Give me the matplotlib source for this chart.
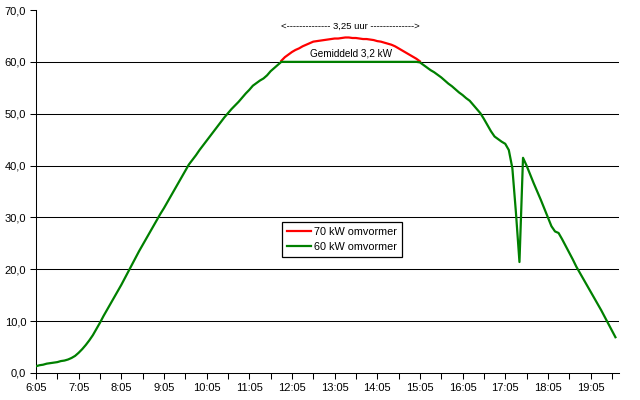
import matplotlib
matplotlib.use("Agg")
import matplotlib.pyplot as plt
import numpy as np

plt.rcParams['font.family'] = ['Liberation Sans', 'DejaVu Sans']

# 5-minute categories starting at 6:05
tick_labels = ["6:05", "7:05", "8:05", "9:05", "10:05", "11:05", "12:05",
               "13:05", "14:05", "15:05", "16:05", "17:05", "18:05", "19:05"]

# 60 kW inverter (kW), one value per 5 minutes from 6:05
green = [1.3, 1.5, 1.6, 1.8, 1.9, 2.0, 2.1, 2.3, 2.4, 2.6,
         2.9, 3.3, 3.9, 4.6, 5.4, 6.3, 7.3, 8.5, 9.7, 11.0,
         12.2, 13.4, 14.6, 15.8, 17.0, 18.3, 19.6, 20.9, 22.2, 23.5,
         24.7, 25.9, 27.1, 28.3, 29.5, 30.7, 31.8, 33.0, 34.2, 35.4,
         36.6, 37.8, 39.0, 40.2, 41.1, 42.0, 43.0, 43.9, 44.8, 45.7,
         46.6, 47.5, 48.4, 49.3, 50.1, 50.9, 51.6, 52.3, 53.1, 53.9,
         54.6, 55.4, 55.9, 56.4, 56.8, 57.4, 58.2, 58.8, 59.4, 60.0,
         60.0, 60.0, 60.0, 60.0, 60.0, 60.0, 60.0, 60.0, 60.0, 60.0,
         60.0, 60.0, 60.0, 60.0, 60.0, 60.0, 60.0, 60.0, 60.0, 60.0,
         60.0, 60.0, 60.0, 60.0, 60.0, 60.0, 60.0, 60.0, 60.0, 60.0,
         60.0, 60.0, 60.0, 60.0, 60.0, 60.0, 60.0, 60.0, 59.9, 59.4,
         58.9, 58.4, 58.0, 57.5, 57.0, 56.4, 55.8, 55.3, 54.7, 54.1,
         53.6, 53.0, 52.5, 51.7, 50.9, 50.1, 49.0, 47.8, 46.6, 45.6,
         45.1, 44.6, 44.2, 43.0, 39.5, 31.0, 21.4, 41.5, 40.0, 38.3,
         36.6, 35.0, 33.4, 31.7, 30.0, 28.3, 27.3, 27.0, 25.8, 24.5,
         23.2, 21.9, 20.5, 19.3, 18.1, 16.9, 15.7, 14.5, 13.3, 12.1,
         10.8, 9.5, 8.2, 6.9]

# 70 kW inverter, only where it exceeds the 60 kW cap (from 11:50)
red_start = 69
red = [60.2, 60.9, 61.4, 61.9, 62.3, 62.6, 63.0, 63.3, 63.6, 63.9,
       64.0, 64.1, 64.2, 64.3, 64.4, 64.5, 64.5, 64.6, 64.7, 64.7,
       64.6, 64.6, 64.5, 64.4, 64.4, 64.3, 64.2, 64.0, 63.9, 63.7,
       63.5, 63.3, 63.0, 62.6, 62.2, 61.8, 61.4, 61.0, 60.6, 60.1]

x_green = np.arange(len(green))
x_red = np.arange(red_start, red_start + len(red))

fig = plt.figure(figsize=(6.4, 4.0), dpi=100)
ax = fig.add_axes([36/640, 1 - 373/400, (619 - 36)/640, (373 - 10)/400])

for yv in [10, 20, 30, 40, 50, 60]:
    ax.axhline(yv, color='black', lw=0.75, zorder=1)

ax.plot(x_red, red, color='#FF0000', lw=1.6, zorder=3, label='70 kW omvormer')
ax.plot(x_green, green, color='#008000', lw=1.6, zorder=4, label='60 kW omvormer')

ax.set_xlim(0, 164)
ax.set_ylim(0, 70)

ax.set_xticks(np.arange(0, 164, 6))
ax.set_xticklabels([tick_labels[i // 2] if i % 2 == 0 else "" for i in range(len(np.arange(0, 164, 6)))])
ax.set_yticks(np.arange(0, 71, 10))
ax.set_yticklabels([f"{v:.1f}".replace('.', ',') for v in np.arange(0, 71, 10)])
ax.tick_params(axis='both', direction='out', length=4, width=0.75, labelsize=8, color='black', pad=3)

for s in ['top', 'right']:
    ax.spines[s].set_visible(False)
for s in ['left', 'bottom']:
    ax.spines[s].set_linewidth(0.75)
    ax.spines[s].set_color('black')

ax.text(88.5, 66.9, "<-------------- 3,25 uur -------------->", ha='center', va='center', fontsize=6.8)
ax.text(88.5, 61.6, "Gemiddeld 3,2 kW", ha='center', va='center', fontsize=7.2)

leg = ax.legend(loc='upper left', bbox_to_anchor=((282 - 36)/583, (373 - 222)/363),
                fontsize=7.8, frameon=True, fancybox=False, edgecolor='black',
                framealpha=1, handlelength=2.2, handletextpad=0.3, borderpad=0.45,
                labelspacing=0.45, borderaxespad=0)
leg.get_frame().set_linewidth(0.9)

fig.savefig("out.png", dpi=100)
